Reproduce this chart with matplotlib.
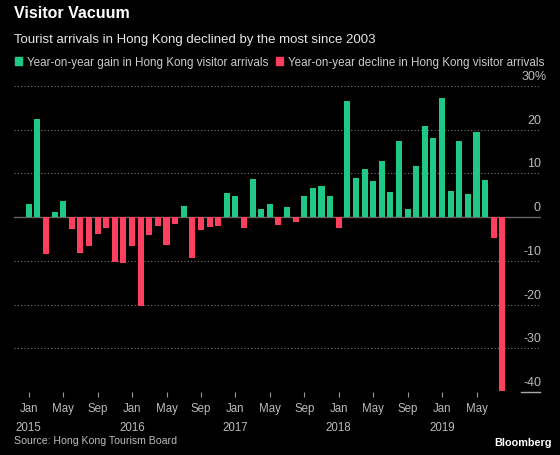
import numpy as np
import matplotlib.pyplot as plt
from matplotlib.patches import Patch
from matplotlib.transforms import blended_transform_factory, offset_copy

plt.rcParams['font.family'] = ['Liberation Sans', 'DejaVu Sans']

# monthly y/y change in Hong Kong visitor arrivals, Jan 2015 - Aug 2019 (%)
yoy_2015 = [2.9, 22.5, -8.5, 1.1, 3.7, -2.7, -8.2, -6.5, -3.9, -2.5, -10.3, -10.5]
yoy_2016 = [-6.6, -20.4, -4.1, -2.1, -6.3, -1.5, 2.6, -9.3, -2.9, -2.2, -2.1, 5.5]
yoy_2017 = [4.8, -2.5, 8.8, 1.9, 3.1, -1.8, 2.4, -1.1, 4.8, 6.7, 7.1, 4.8]
yoy_2018 = [-2.5, 26.5, 9.0, 11.1, 8.2, 12.8, 5.7, 17.5, 1.9, 11.6, 20.8, 18.0]
yoy_2019 = [27.3, 5.9, 17.5, 5.3, 19.5, 8.6, -4.7, -39.8]
values = np.array(yoy_2015 + yoy_2016 + yoy_2017 + yoy_2018 + yoy_2019)

month_names = ['Jan', 'Feb', 'Mar', 'Apr', 'May', 'Jun',
               'Jul', 'Aug', 'Sep', 'Oct', 'Nov', 'Dec']
start_year = 2015
y_ticks = [30, 20, 10, 0, -10, -20, -30, -40]

green = '#1fc884'
red = '#ff3f5e'
bg = '#000000'

fig = plt.figure(figsize=(5.6, 4.56), dpi=100, facecolor=bg)
ax = fig.add_axes([14 / 560, 1 - 393 / 456, 527 / 560, 306 / 456], facecolor=bg)

x = np.arange(len(values))
colors = [green if v >= 0 else red for v in values]
ax.bar(x, values, width=0.7, color=colors, zorder=3)

ax.set_xlim(-1.71, 59.49)
ax.set_ylim(-40, 30)

trans = blended_transform_factory(ax.transAxes, ax.transData)

# gridlines: dotted, zero line solid, short rule under -40
for v in y_ticks:
    if v == 0:
        ax.axhline(0, color='#666666', lw=1.0, zorder=2)
    elif v == -40:
        ax.plot([0.962, 0.998], [v, v], color='#aaaaaa', lw=1.0,
                transform=trans, clip_on=False)
    else:
        ax.axhline(v, color='#777777', lw=0.8, ls=(0, (1, 2)), zorder=1)

# y labels on the right, sitting above their gridline
pct_trans = offset_copy(trans, fig=fig, x=6, y=0, units='dots')
for v in y_ticks:
    if v == y_ticks[0]:
        ax.text(1.0, v + 0.9, f'{v}%', transform=pct_trans, ha='right',
                va='bottom', color='#bbbbbb', fontsize=9)
    else:
        ax.text(1.0, v + 0.9, f'{v}', transform=trans, ha='right',
                va='bottom', color='#bbbbbb', fontsize=9)

# x ticks every 4 months
tick_pos = x[::4]
tick_lab = []
for i in tick_pos:
    m = month_names[i % 12]
    if i % 12 == 0:
        tick_lab.append(f'{m}\n{start_year + i // 12}')
    else:
        tick_lab.append(m)
ax.set_xticks(tick_pos)
ax.set_xticklabels(tick_lab, color='#bbbbbb', fontsize=8.3, linespacing=1.7,
                   va='top')
ax.tick_params(axis='x', length=3.5, width=0.8, color='#999999', pad=4)
ax.set_yticks([])
for s in ax.spines.values():
    s.set_visible(False)

fig.text(14 / 560, 1 - 14 / 456, 'Visitor Vacuum', color='white',
         fontsize=11.5, fontweight='bold', va='center', ha='left')
fig.text(14 / 560, 1 - 40 / 456, 'Tourist arrivals in Hong Kong declined by the most since 2003',
         color='#e6e6e6', fontsize=9.5, va='center', ha='left')

handles = [Patch(color=green, label='Year-on-year gain in Hong Kong visitor arrivals'),
           Patch(color=red, label='Year-on-year decline in Hong Kong visitor arrivals')]
fig.legend(handles=handles, loc='center left', bbox_to_anchor=(15 / 560, 1 - 63 / 456),
           ncol=2, frameon=False, fontsize=8.4, labelcolor='#cccccc',
           handlelength=0.6, handleheight=0.6, handletextpad=0.4,
           columnspacing=0.7, borderpad=0, borderaxespad=0)

fig.text(14 / 560, 1 - 441 / 456, 'Source: Hong Kong Tourism Board',
         color='#bbbbbb', fontsize=7.6, va='center', ha='left')
fig.text(552 / 560, 1 - 443 / 456, 'Bloomberg', color='white',
         fontsize=7.8, fontweight='bold', va='center', ha='right')

fig.savefig('out.png', dpi=100, facecolor=bg)
